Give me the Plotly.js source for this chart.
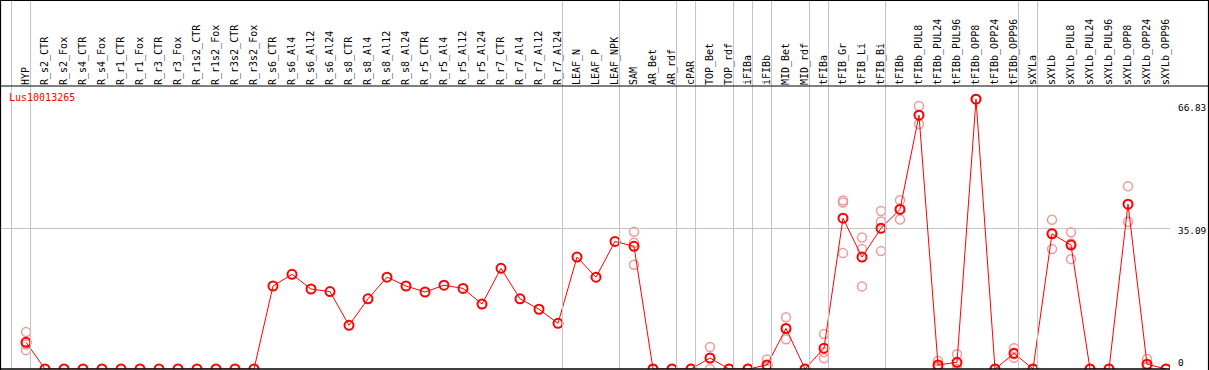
<!DOCTYPE html>
<html>
<head>
<meta charset="utf-8">
<script src="https://cdn.plot.ly/plotly-3.0.1.min.js"></script>
<style>
html,body{margin:0;padding:0;background:#fff;}
#chart{width:1209px;height:370px;}
</style>
</head>
<body>
<div id="chart"></div>
<script>
// ---- data ----
var geneName = "Lus10013265";

var categories = [
  "HYP","R_s2_CTR","R_s2_Fox","R_s4_CTR","R_s4_Fox","R_r1_CTR","R_r1_Fox","R_r3_CTR","R_r3_Fox",
  "R_r1s2_CTR","R_r1s2_Fox","R_r3s2_CTR","R_r3s2_Fox","R_s6_CTR","R_s6_Al4","R_s6_Al12","R_s6_Al24",
  "R_s8_CTR","R_s8_Al4","R_s8_Al12","R_s8_Al24","R_r5_CTR","R_r5_Al4","R_r5_Al12","R_r5_Al24",
  "R_r7_CTR","R_r7_Al4","R_r7_Al12","R_r7_Al24","LEAF_N","LEAF_P","LEAF_NPK","SAM","AR_Bet","AR_rdf",
  "cPAR","TOP_Bet","TOP_rdf","iFIBa","iFIBb","MID_Bet","MID_rdf","tFIBa","tFIB_Gr","tFIB_Li","tFIB_Bi",
  "tFIBb","tFIBb_PUL8","tFIBb_PUL24","tFIBb_PUL96","tFIBb_OPP8","tFIBb_OPP24","tFIBb_OPP96","sXYLa",
  "sXYLb","sXYLb_PUL8","sXYLb_PUL24","sXYLb_PUL96","sXYLb_OPP8","sXYLb_OPP24","sXYLb_OPP96"
];

var meanValues = [
  6.66, 0,0,0,0,0,0,0,0,0,0,0,0,
  20.7, 23.6, 19.95, 19.3,
  10.9, 17.5, 22.9, 20.7,
  19.2, 20.9, 20.1, 16.2,
  25.1, 17.5, 14.9, 11.4,
  27.9, 22.9, 31.8,
  30.6, 0, 0,
  0, 2.74, 0, 0, 1.0, 10.1, 0, 5.2, 37.6, 27.9, 35.1,
  39.8, 63.3, 1.0, 1.67, 67.3, 0, 3.9, 0,
  33.7, 30.9, 0, 0, 41.1, 1.2, 0
];

var rep1 = [
  9.2, null,null,null,null,null,null,null,null,null,null,null,null,
  null,null,null,null, null,null,null,null, null,null,null,null, null,null,null,null,
  null,null,null,
  34.2, 0, 0,
  0, 5.5, 0, 0, 2.4, 12.9, 0, 8.7, 42.0, 32.8, 39.4,
  42.1, 65.6, 2.0, 3.7, 67.3, 0, 5.2, 0,
  37.2, 34.1, 0, 0, 45.6, 2.5, 0
];
var rep2 = [
  4.7, null,null,null,null,null,null,null,null,null,null,null,null,
  null,null,null,null, null,null,null,null, null,null,null,null, null,null,null,null,
  null,null,null,
  31.5, 0, 0,
  0, 2.7, 0, 0, 0.6, 7.4, 0, 2.7, 41.5, 29.9, 36.8,
  37.3, 61.1, 0.5, 1.3, 67.3, 0, 2.8, 0,
  29.9, 27.4, 0, 0, 36.7, 0.5, 0
];
var rep3 = [
  6.1, null,null,null,null,null,null,null,null,null,null,null,null,
  null,null,null,null, null,null,null,null, null,null,null,null, null,null,null,null,
  null,null,null,
  26.0, 0, 0,
  0, 0, 0, 0, 0, 10.0, 0, 4.2, 28.9, 20.6, 29.4,
  40.0, 63.3, 0.5, 0, 67.3, 0, 3.7, 0,
  33.9, 31.3, 0, 0, 41.0, 0.6, 0
];

// last category index of each group (separators drawn after them)
var groupEnds = [-1, 0, 28, 31, 34, 35, 37, 38, 39, 41, 42, 45, 52, 53, 60];

// right-side axis labels
var yLabelValues = [0, 35.09, 66.83];
var yLabelTexts = ["0", "35.09", "66.83"];

// ---- build ----
var idx = categories.map(function(_, i){ return i; });
var repColor = "#f19a9a";
var mainColor = "#ff0000";
var mono = "DejaVu Sans Mono, monospace";

function repTrace(vals){
  return {
    x: idx, y: vals, type: "scatter", mode: "markers",
    marker: {symbol: "circle-open", size: 9, color: repColor, line: {width: 1.5, color: repColor}},
    hoverinfo: "skip", showlegend: false, cliponaxis: true
  };
}

var traces = [
  repTrace(rep1), repTrace(rep2), repTrace(rep3),
  {
    x: idx, y: meanValues, type: "scatter", mode: "lines+markers",
    line: {color: mainColor, width: 1},
    marker: {symbol: "circle-open", size: 9, color: mainColor, line: {width: 2, color: mainColor}},
    showlegend: false, cliponaxis: true
  }
];

var plotW = 1169, plotH = 283;
var topPaper = 369 / plotH;

var shapes = groupEnds.map(function(g){
  return {type: "line", xref: "x", yref: "paper", x0: g + 0.24, x1: g + 0.24, y0: 0, y1: topPaper,
          line: {color: "#c4c4c4", width: 1}};
});
// frame lines
shapes.push({type:"line", xref:"paper", yref:"paper", x0:-1/plotW, x1:1208/plotW, y0:1, y1:1, line:{color:"#000", width:1.2}});
shapes.push({type:"line", xref:"paper", yref:"paper", x0:-1/plotW, x1:1208/plotW, y0:368.5/plotH, y1:368.5/plotH, line:{color:"#000", width:1.2}});
shapes.push({type:"line", xref:"paper", yref:"paper", x0:-0.5/plotW, x1:-0.5/plotW, y0:-1/plotH, y1:topPaper, line:{color:"#000", width:1.2}});
shapes.push({type:"line", xref:"paper", yref:"paper", x0:1207.5/plotW, x1:1207.5/plotW, y0:-1/plotH, y1:topPaper, line:{color:"#000", width:1.2}});
shapes.push({type:"line", xref:"paper", yref:"paper", x0:-1/plotW, x1:1, y0:0, y1:0, line:{color:"#000", width:1.5}});

var yShifts = [6.3, -2.7, -6.7];
var annotations = yLabelValues.map(function(v, i){
  return {xref: "paper", yref: "y", x: 1177/plotW, y: v, xanchor: "left", yanchor: "middle",
          yshift: yShifts[i], text: yLabelTexts[i], showarrow: false, borderpad: 0, borderwidth: 0,
          font: {family: mono, size: 9.4, color: "#000"}};
});

var yTop = plotH / 4.01;

var layout = {
  width: 1209, height: 370,
  margin: {l: 1, r: 39, t: 86, b: 1, pad: 0},
  paper_bgcolor: "#fff", plot_bgcolor: "#fff",
  title: {text: geneName, font: {family: mono, size: 10, color: "#ff0000"},
          xref: "container", yref: "container", x: 9/1209, xanchor: "left",
          y: 1 - 97/370, yanchor: "middle"},
  xaxis: {
    range: [-25/19, 1144/19], side: "top",
    tickmode: "array", tickvals: idx, ticktext: categories, tickangle: -90,
    tickfont: {family: mono, size: 10, color: "#000"},
    ticks: "", showgrid: false, zeroline: false, showline: false, fixedrange: true
  },
  yaxis: {
    range: [0, yTop], tickmode: "array", tickvals: [35.09], showticklabels: false,
    showgrid: true, gridcolor: "#c4c4c4", gridwidth: 1, zeroline: false, showline: false,
    ticks: "", fixedrange: true
  },
  shapes: shapes,
  annotations: annotations,
  showlegend: false
};

Plotly.newPlot("chart", traces, layout, {displayModeBar: false, staticPlot: true});
</script>
</body>
</html>
